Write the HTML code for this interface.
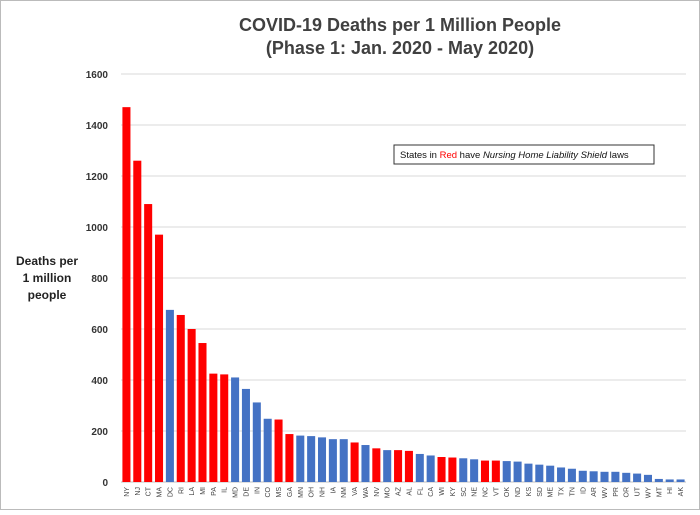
<!DOCTYPE html>
<html><head><meta charset="utf-8"><style>
body{margin:0;background:#fff}
svg text{font-family:"Liberation Sans",sans-serif}
</style></head><body>
<svg id="chart" width="700" height="510" xmlns="http://www.w3.org/2000/svg">
<rect x="0.5" y="0.5" width="699" height="509" fill="#fff" stroke="#bbb"/>
<text x="400" y="31" text-anchor="middle" font-size="18" font-weight="bold" fill="#404040">COVID-19 Deaths per 1 Million People</text>
<text x="400" y="54" text-anchor="middle" font-size="18" font-weight="bold" fill="#404040">(Phase 1: Jan. 2020 - May 2020)</text>
<text font-size="12" font-weight="bold" fill="#222" text-anchor="middle"><tspan x="47" y="265">Deaths per</tspan><tspan x="47" y="282">1 million</tspan><tspan x="47" y="299">people</tspan></text>
<g>
<rect x="394" y="145" width="260" height="19" fill="#fff" stroke="#333"/>
<text x="400" y="158" font-size="9.5" fill="#111">States in <tspan fill="#f00">Red</tspan> have <tspan font-style="italic">Nursing Home Liability Shield</tspan> laws</text>
</g>
<g id="grid"></g><g id="bars"></g><g id="labels"></g>
</svg>
<script>
const states=["NY","NJ","CT","MA","DC","RI","LA","MI","PA","IL","MD","DE","IN","CO","MS","GA","MN","OH","NH","IA","NM","VA","WA","NV","MO","AZ","AL","FL","CA","WI","KY","SC","NE","NC","VT","OK","ND","KS","SD","ME","TX","TN","ID","AR","WV","PR","OR","UT","WY","MT","HI","AK"];
const deaths=[1470,1260,1090,970,675,655,600,545,425,422,410,365,312,248,245,188,182,180,175,168,168,155,145,132,125,125,122,110,104,98,96,93,89,84,84,82,80,72,68,64,57,52,44,42,40,40,36,33,28,12,10,10];
const shieldStates=["NY","NJ","CT","MA","RI","LA","MI","PA","IL","MS","GA","VA","NV","AZ","AL","WI","KY","NC","VT"];
const yTicks=[0,200,400,600,800,1000,1200,1400,1600];
const NS="http://www.w3.org/2000/svg";
const x0=121,x1=686,yBase=482,yTop=74,yMax=1600;
const y=v=>yBase-(v/yMax)*(yBase-yTop);
const bw=(x1-x0)/states.length;
const xc=i=>x0+(i+0.5)*bw;
const g=document.getElementById("grid"),b=document.getElementById("bars"),l=document.getElementById("labels");
yTicks.forEach(t=>{
 const ln=document.createElementNS(NS,"line");
 
 
 ln.setAttribute("x1",x0);ln.setAttribute("x2",x1);ln.setAttribute("y1",y(t));ln.setAttribute("y2",y(t));
 ln.setAttribute("stroke",t===0?"#bfbfbf":"#d9d9d9");g.appendChild(ln);
 const tx=document.createElementNS(NS,"text");
 
 
 tx.setAttribute("x",108);tx.setAttribute("y",y(t)+4);tx.setAttribute("text-anchor","end");
 tx.setAttribute("font-size","10");tx.setAttribute("font-weight","bold");tx.setAttribute("fill","#333");
 tx.textContent=t;g.appendChild(tx);
});
states.forEach((s,i)=>{
 const r=document.createElementNS(NS,"rect");
 
 
 const w=bw*0.74;
 r.setAttribute("x",xc(i)-w/2);r.setAttribute("width",w);
 r.setAttribute("y",y(deaths[i]));r.setAttribute("height",yBase-y(deaths[i]));
 r.setAttribute("fill",shieldStates.includes(s)?"#ff0000":"#4472c4");b.appendChild(r);
 const tx=document.createElementNS(NS,"text");
 
 
 tx.setAttribute("transform",`translate(${xc(i)+2.5},${yBase+5}) rotate(-90)`);
 tx.setAttribute("text-anchor","end");tx.setAttribute("font-size","7");tx.setAttribute("fill","#444");
 tx.textContent=s;l.appendChild(tx);
});
</script>
</body></html>
